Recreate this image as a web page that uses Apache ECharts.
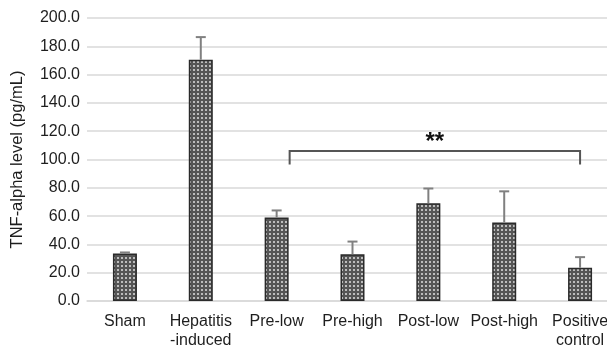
<!DOCTYPE html>
<html><head><meta charset="utf-8">
<script src="https://cdn.jsdelivr.net/npm/echarts@6/dist/echarts.min.js"></script>
<style>html,body{margin:0;padding:0;background:#fff;overflow:hidden}#c{width:619px;height:350px}</style>
</head><body><div id="c"></div>
<script>
var categories = ['Sham', 'Hepatitis\n-induced', 'Pre-low', 'Pre-high', 'Post-low', 'Post-high', 'Positive\ncontrol'];
var means = [33.5, 170.5, 59, 33, 69, 55.5, 23.5];
var errUpper = [34.3, 186.5, 64, 42, 79.5, 77.5, 31];
var yTicks = [0, 20, 40, 60, 80, 100, 120, 140, 160, 180, 200];
var bracket = {from: 2, to: 6, top: 106, bottom: 96.5, label: '**'};

var pc = document.createElement('canvas');
pc.width = 4; pc.height = 4;
var g = pc.getContext('2d');
g.fillStyle = '#555555'; g.fillRect(0, 0, 4, 4);
g.fillStyle = '#bdbdbd'; g.fillRect(1, 1, 2, 2);

var chart = echarts.init(document.getElementById('c'));
chart.setOption({
  animation: false,
  grid: {left: 87, right: 1, top: 18, bottom: 48.5, containLabel: false},
  xAxis: {
    type: 'category', data: categories,
    axisLine: {lineStyle: {color: '#d9d9d9', width: 1.5}},
    axisTick: {show: false},
    axisLabel: {color: '#1e1e1e', fontSize: 16, fontFamily: 'Liberation Sans, Arial', margin: 11, lineHeight: 19, interval: 0}
  },
  yAxis: {
    type: 'value', min: 0, max: 200, interval: 20,
    name: 'TNF-alpha level (pg/mL)', nameLocation: 'middle', nameGap: 61,
    nameTextStyle: {color: '#1e1e1e', fontSize: 16.5, fontFamily: 'Liberation Sans, Arial'},
    axisLine: {show: false}, axisTick: {show: false},
    axisLabel: {color: '#1e1e1e', fontSize: 16, fontFamily: 'Liberation Sans, Arial', margin: 7,
      formatter: function (v) { return yTicks.indexOf(v) >= 0 ? v.toFixed(1) : ''; }},
    splitLine: {lineStyle: {color: '#d9d9d9', width: 1.5}}
  },
  series: [
    {
      type: 'bar', data: means, barWidth: 24,
      itemStyle: {color: {image: pc, repeat: 'repeat'}, borderColor: '#2a2a2a', borderWidth: 1.5},
      z: 2
    },
    {
      type: 'custom', z: 3,
      data: means.map(function (m, i) { return [i, m, errUpper[i]]; }),
      renderItem: function (params, api) {
        var p0 = api.coord([api.value(0), api.value(1)]);
        var p1 = api.coord([api.value(0), api.value(2)]);
        return {type: 'group', children: [
          {type: 'line', shape: {x1: p0[0], y1: p0[1], x2: p1[0], y2: p1[1]}, style: {stroke: '#808080', lineWidth: 2}},
          {type: 'line', shape: {x1: p1[0] - 5, y1: p1[1], x2: p1[0] + 5, y2: p1[1]}, style: {stroke: '#808080', lineWidth: 2}}
        ]};
      }
    },
    {
      type: 'custom', z: 4,
      data: [[bracket.from, bracket.to, bracket.top, bracket.bottom]],
      renderItem: function (params, api) {
        var a = api.coord([api.value(0), api.value(2)]);
        var b = api.coord([api.value(1), api.value(2)]);
        var lo = api.coord([api.value(0), api.value(3)]);
        var x1 = a[0] + 13, x2 = b[0], y = a[1], yb = lo[1];
        return {type: 'group', children: [
          {type: 'polyline', shape: {points: [[x1, yb], [x1, y], [x2, y], [x2, yb]]}, style: {stroke: '#555', lineWidth: 2, fill: null}},
          {type: 'text', style: {text: bracket.label, x: (x1 + x2) / 2, y: y - 9, textAlign: 'center', textVerticalAlign: 'middle', font: 'bold 24px Liberation Sans, Arial', fill: '#111'}}
        ]};
      }
    }
  ]
});
</script></body></html>
